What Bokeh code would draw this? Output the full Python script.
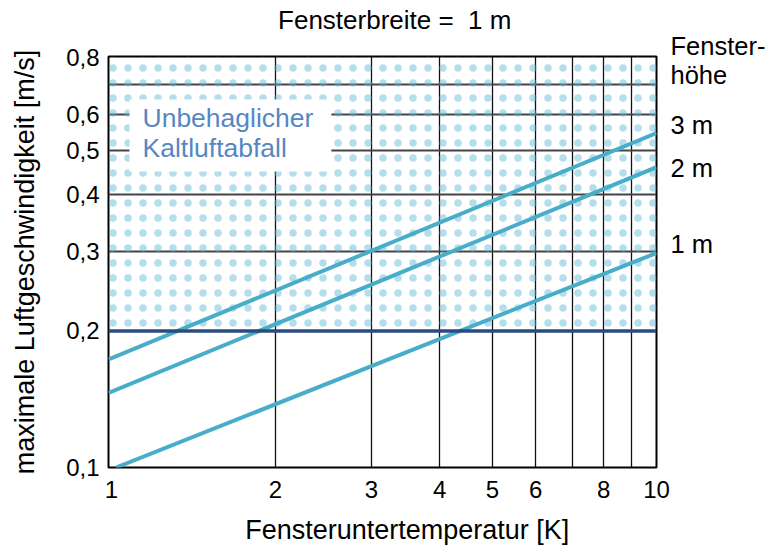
from bokeh.plotting import figure
from bokeh.models import (FixedTicker, Span, BoxAnnotation, Label, Range1d,
                          LogAxis)
from bokeh.embed import file_html
from bokeh.resources import INLINE

# ---------------- data ----------------
title_text = "Fensterbreite =\u00a0 1 m"
title_pos_x = 3.31            # horizontal position of the title (data units)
x_label = "Fensteruntertemperatur [K]"
x_label_pos_x = 3.49          # horizontal position of the x-axis title (data units)
y_label = "maximale Luftgeschwindigkeit [m/s]"

x_min, x_max = 0.988, 10.0
y_min, y_max = 0.1, 0.805

x_ticks = [1, 2, 3, 4, 5, 6, 8, 10]
x_grid = [2, 3, 4, 5, 6, 7, 8, 9]
y_ticks = [0.1, 0.2, 0.3, 0.4, 0.5, 0.6, 0.8]
y_tick_labels = ["0,1", "0,2", "0,3", "0,4", "0,5", "0,6", "0,8"]
y_grid = [0.3, 0.4, 0.5, 0.6, 0.7]

limit_v = 0.2   # comfort limit

heights = ["1 m", "2 m", "3 m"]
dT_1m = [1.02, 10.0]
v_1m = [0.100, 0.297]
dT_2m = [0.988, 10.0]
v_2m = [0.146, 0.459]
dT_3m = [0.988, 10.0]
v_3m = [0.173, 0.546]

# right-hand legend texts and their vertical positions (data units)
legend_title = "Fenster-\nhöhe"
legend_title_y = 0.788
height_label_y = {"1 m": 0.311, "2 m": 0.457, "3 m": 0.569}

zone_text = "Unbehaglicher\nKaltluftabfall"

# ---------------- styles ----------------
FONT = "Liberation Sans"
LINE_C = "#48adc9"
DOT_C = "#5cb6d8"
NAVY = "#2c4a7e"
TEXT_BLUE = "#5587c3"

p = figure(width=773, height=554, x_axis_type="log", y_axis_type="log",
           x_range=Range1d(x_min, x_max), y_range=Range1d(y_min, y_max),
           output_backend="svg", toolbar_location=None,
           min_border_left=108, min_border_right=117,
           min_border_top=56, min_border_bottom=87)

p.outline_line_color = "black"
p.outline_line_width = 2
p.background_fill_color = "white"
p.border_fill_color = "white"

# dotted zone above the limit
zone = BoxAnnotation(bottom=limit_v, fill_alpha=0, line_color=None,
                     hatch_pattern="dot", hatch_color=DOT_C, hatch_alpha=0.45,
                     hatch_scale=15, hatch_weight=1, level="underlay")
p.add_layout(zone)

# grids
p.xgrid.ticker = FixedTicker(ticks=x_grid)
p.xgrid.grid_line_color = "#111111"
p.xgrid.grid_line_width = 1.3
p.ygrid.ticker = FixedTicker(ticks=y_grid)
p.ygrid.grid_line_color = "#444444"
p.ygrid.grid_line_width = 2


def style_axis(ax, tick_size="24px"):
    ax.axis_line_color = None
    ax.major_tick_line_color = None
    ax.minor_tick_line_color = None
    ax.major_tick_out = 0
    ax.major_tick_in = 0
    ax.minor_tick_out = 0
    ax.minor_tick_in = 0
    ax.major_label_text_font = FONT
    ax.major_label_text_font_size = tick_size
    ax.major_label_text_color = "black"
    ax.axis_label_text_font = FONT
    ax.axis_label_text_font_size = "27px"
    ax.axis_label_text_font_style = "normal"
    ax.axis_label_text_color = "black"


style_axis(p.xaxis[0])
style_axis(p.yaxis[0])

p.xaxis.ticker = FixedTicker(ticks=x_ticks, minor_ticks=[])
p.xaxis.major_label_overrides = {t: str(t) for t in x_ticks}
p.xaxis.major_label_standoff = 13

p.yaxis.ticker = FixedTicker(ticks=y_ticks, minor_ticks=[])
p.yaxis.major_label_overrides = dict(zip(y_ticks, y_tick_labels))
p.yaxis.major_label_standoff = 9
p.yaxis.axis_label = y_label
p.yaxis.axis_label_standoff = 23

# x-axis title, placed off-centre like the original, as a second bottom axis
xlab_ax = LogAxis(ticker=FixedTicker(ticks=[x_label_pos_x], minor_ticks=[]),
                  major_label_overrides={x_label_pos_x: x_label})
style_axis(xlab_ax, tick_size="27px")
xlab_ax.major_label_standoff = 14
p.add_layout(xlab_ax, "below")

# title drawn as the single label of an axis above the frame
top_ax = LogAxis(ticker=FixedTicker(ticks=[title_pos_x], minor_ticks=[]),
                 major_label_overrides={title_pos_x: title_text})
style_axis(top_ax, tick_size="26px")
top_ax.major_label_standoff = 22
p.add_layout(top_ax, "above")

# right-hand labels drawn as labels of an axis on the right
right_ticks = [legend_title_y] + [height_label_y[h] for h in heights]
right_labels = [legend_title] + heights
right_ax = LogAxis(ticker=FixedTicker(ticks=right_ticks, minor_ticks=[]),
                   major_label_overrides=dict(zip(right_ticks, right_labels)))
style_axis(right_ax, tick_size="25.5px")
right_ax.major_label_text_line_height = 1.05
right_ax.major_label_standoff = 14
p.add_layout(right_ax, "right")

# limit line
p.add_layout(Span(location=limit_v, dimension="width", line_color=NAVY,
                  line_width=3.5))

# curves
for xs, ys in ((dT_1m, v_1m), (dT_2m, v_2m), (dT_3m, v_3m)):
    p.line(xs, ys, line_color=LINE_C, line_width=4)

# zone label with white box (padding: left, right, top, bottom)
p.add_layout(Label(x=21, y=368, x_units="screen", y_units="screen",
                   text=zone_text, text_font=FONT, text_font_size="26.5px",
                   text_color=TEXT_BLUE, anchor="top_left",
                   text_line_height=1.0,
                   background_fill_color="white", padding=(13, 18, 3, 9)))

open("out.html", "w").write(file_html(p, INLINE))
